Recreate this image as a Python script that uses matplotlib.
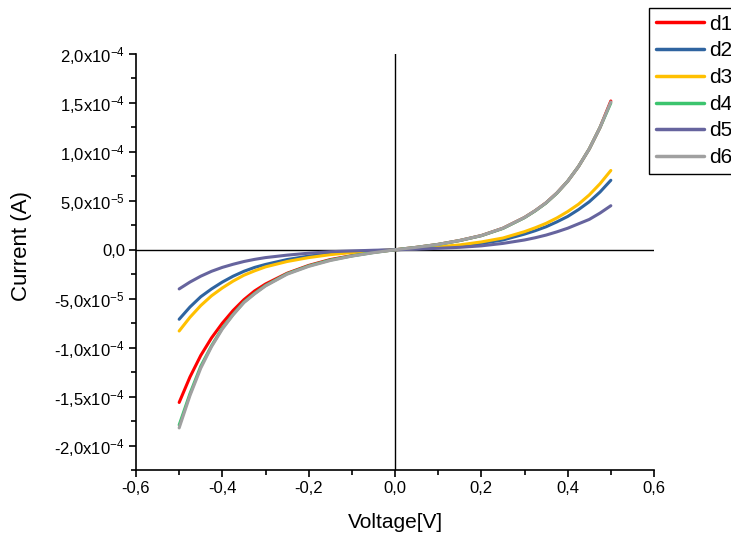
import numpy as np
import matplotlib
matplotlib.use("Agg")
import matplotlib.pyplot as plt
from matplotlib.ticker import FixedLocator, FixedFormatter, MultipleLocator

plt.rcParams['font.family'] = ['Liberation Sans', 'DejaVu Sans']
plt.rcParams['mathtext.fontset'] = 'custom'
plt.rcParams['mathtext.rm'] = 'Liberation Sans'
plt.rcParams['mathtext.it'] = 'Liberation Sans'
plt.rcParams['mathtext.sf'] = 'Liberation Sans'

# Bias voltage (V)
voltage = [-0.500, -0.475, -0.450, -0.425, -0.400, -0.375, -0.350, -0.325, -0.300,
           -0.25, -0.20, -0.15, -0.10, -0.05, 0.00, 0.05, 0.10, 0.15, 0.20, 0.25,
           0.300, 0.325, 0.350, 0.375, 0.400, 0.425, 0.450, 0.475, 0.500]

# Measured current for each device, in units of 1e-4 A
d1 = [-1.56, -1.30, -1.08, -0.90, -0.75, -0.62, -0.51, -0.42, -0.35,
      -0.24, -0.16, -0.10, -0.06, -0.025, 0.0, 0.025, 0.055, 0.095, 0.145, 0.22,
      0.33, 0.40, 0.48, 0.58, 0.70, 0.85, 1.03, 1.25, 1.52]
d2 = [-0.71, -0.585, -0.48, -0.40, -0.33, -0.27, -0.22, -0.18, -0.15,
      -0.10, -0.065, -0.04, -0.022, -0.01, 0.0, 0.01, 0.025, 0.04, 0.065, 0.10,
      0.16, 0.195, 0.235, 0.285, 0.34, 0.41, 0.49, 0.59, 0.71]
d3 = [-0.83, -0.69, -0.57, -0.47, -0.39, -0.32, -0.26, -0.215, -0.175,
      -0.12, -0.08, -0.05, -0.028, -0.012, 0.0, 0.012, 0.03, 0.05, 0.08, 0.12,
      0.185, 0.225, 0.27, 0.325, 0.39, 0.465, 0.56, 0.675, 0.81]
d4 = [-1.79, -1.47, -1.19, -0.98, -0.80, -0.66, -0.535, -0.445, -0.365,
      -0.245, -0.165, -0.105, -0.063, -0.028, 0.0, 0.025, 0.055, 0.094, 0.144, 0.218,
      0.328, 0.398, 0.478, 0.578, 0.70, 0.85, 1.03, 1.25, 1.50]
d5 = [-0.40, -0.33, -0.27, -0.22, -0.18, -0.148, -0.12, -0.098, -0.08,
      -0.055, -0.035, -0.02, -0.012, -0.005, 0.0, 0.006, 0.015, 0.025, 0.04, 0.065,
      0.10, 0.123, 0.15, 0.183, 0.22, 0.265, 0.31, 0.375, 0.45]
d6 = [-1.82, -1.49, -1.21, -0.99, -0.81, -0.665, -0.54, -0.45, -0.37,
      -0.25, -0.17, -0.11, -0.065, -0.03, 0.0, 0.025, 0.055, 0.095, 0.145, 0.22,
      0.33, 0.40, 0.48, 0.58, 0.70, 0.85, 1.03, 1.25, 1.51]

labels = ['d1', 'd2', 'd3', 'd4', 'd5', 'd6']
colors = ['#FF0000', '#2F64A0', '#FFC000', '#3CC46E', '#66649E', '#A0A0A0']
unit = 1e-4

x_ticks = [-0.6, -0.4, -0.2, 0.0, 0.2, 0.4, 0.6]
x_tick_labels = ['-0,6', '-0,4', '-0,2', '0,0', '0,2', '0,4', '0,6']
y_ticks = [-2.0e-4, -1.5e-4, -1.0e-4, -0.5e-4, 0.0, 0.5e-4, 1.0e-4, 1.5e-4, 2.0e-4]
y_tick_labels = ['-2,0x10$^{-4}$', '-1,5x10$^{-4}$', '-1,0x10$^{-4}$', '-5,0x10$^{-5}$',
                 '0,0', '5,0x10$^{-5}$', '1,0x10$^{-4}$', '1,5x10$^{-4}$', '2,0x10$^{-4}$']

W, H = 731, 535
fig = plt.figure(figsize=(W / 100, H / 100), dpi=100)
ax = fig.add_axes([136 / W, 1 - 470 / H, (654 - 136) / W, (470 - 54) / H])

series = [d1, d2, d3, d4, d5, d6]
for vals, lab, col in zip(series, labels, colors):
    ax.plot(voltage, np.array(vals) * unit, color=col, lw=2.2, label=lab,
            solid_capstyle='round', solid_joinstyle='round', zorder=3)

ax.axhline(0, color='black', lw=1.0, zorder=2)
ax.axvline(0, color='black', lw=1.0, zorder=2)

ax.set_xlim(-0.6, 0.6)
ax.set_ylim(-2.25e-4, 2.0e-4)

ax.xaxis.set_major_locator(FixedLocator(x_ticks))
ax.xaxis.set_major_formatter(FixedFormatter(x_tick_labels))
ax.xaxis.set_minor_locator(MultipleLocator(0.1))
ax.yaxis.set_major_locator(FixedLocator(y_ticks))
ax.yaxis.set_major_formatter(FixedFormatter(y_tick_labels))
ax.yaxis.set_minor_locator(MultipleLocator(0.25e-4))

for side in ['top', 'right']:
    ax.spines[side].set_visible(False)
for side in ['left', 'bottom']:
    ax.spines[side].set_linewidth(1.2)

ax.tick_params(which='major', direction='out', length=5, width=1.2,
               labelsize=12, pad=3)
ax.tick_params(which='minor', direction='out', length=3.5, width=1.2)

fig.text(22 / W, 1 - 246 / H, 'Current (A)', rotation=90, fontsize=16,
         ha='center', va='center')
fig.text(395 / W, 1 - 522 / H, 'Voltage[V]', fontsize=15,
         ha='center', va='center')

leg = fig.legend(loc='upper left', bbox_to_anchor=(649 / W, 1 - 8 / H),
                 bbox_transform=fig.transFigure, fontsize=15, frameon=True,
                 fancybox=False, framealpha=1, edgecolor='black',
                 handlelength=2.3, handletextpad=0.25, labelspacing=0.37,
                 borderpad=0.32, borderaxespad=0)
leg.get_frame().set_linewidth(1.0)
for line in leg.get_lines():
    line.set_linewidth(2.5)

fig.savefig('out.png', dpi=100)
